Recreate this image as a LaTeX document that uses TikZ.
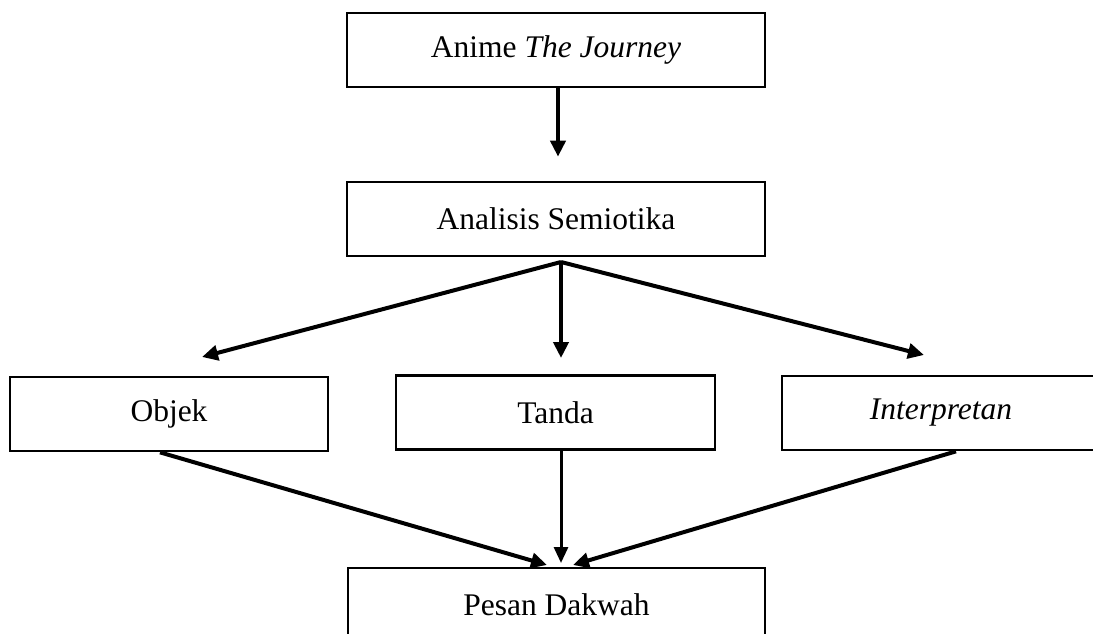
\documentclass[tikz,border=0pt]{standalone}
\usepackage{fontspec}
\setmainfont{Liberation Serif}
\usetikzlibrary{arrows.meta}
\begin{document}
\begin{tikzpicture}[x=1pt,y=-1pt,
  box/.style={draw, line width=2.7pt, minimum height=74pt, inner sep=0pt,
    font=\fontsize{31.5}{36}\selectfont},
  arr/.style={line width=4pt, -{Triangle[length=16pt,width=15pt]}},
  arrthin/.style={line width=3pt, -{Triangle[length=16pt,width=14pt]}}]
\useasboundingbox (0,0) rectangle (1093,634);
\clip (0,0) rectangle (1093,634);
\node[box, minimum width=418pt] (anime) at (556,50) {Anime \textit{The Journey}};
\node[box, minimum width=418pt] (analisis) at (556,219) {Analisis Semiotika};
\node[box, minimum width=318pt] (objek) at (169,414) {Objek};
\node[box, minimum width=319pt] (tanda) at (555.5,412.5) {Tanda};
\node[box, minimum width=318pt] (interp) at (941,413) {\textit{Interpretan}};
\node[box, minimum width=417pt] (pesan) at (556.5,605) {Pesan Dakwah};
\coordinate (apex) at (561,262);
\coordinate (t1) at (202,357);
\coordinate (t2) at (561,358);
\coordinate (t3) at (924,355);
\coordinate (b1) at (547,565);
\coordinate (b2) at (561,563);
\coordinate (b3) at (573,565);
\draw[arr] ([xshift=2pt]anime.south) -- ([xshift=2pt,yshift=24pt]analisis.north);
\draw[arr] (apex) -- (t1);
\draw[arr] (apex) -- (t2);
\draw[arr] (apex) -- (t3);
\draw[arr] ([xshift=-9pt]objek.south) -- (b1);
\draw[arrthin] ([xshift=5.5pt]tanda.south) -- (b2);
\draw[arr] ([xshift=15pt]interp.south) -- (b3);
\end{tikzpicture}
\end{document}
